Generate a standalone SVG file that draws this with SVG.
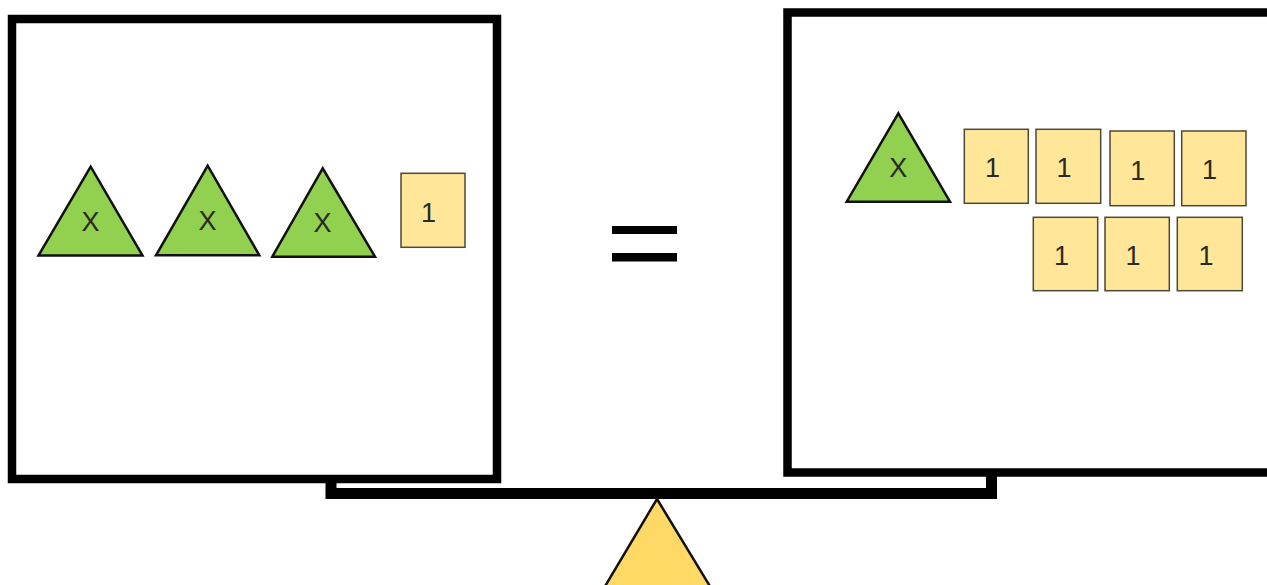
<svg xmlns="http://www.w3.org/2000/svg" width="1267" height="585" viewBox="0 0 1267 585">
<style>
.pan{fill:#fff;stroke:#000;stroke-width:8.5}
.tri{fill:#92D050;stroke:#111;stroke-width:2.5;stroke-linejoin:miter}
.unit{fill:#FFE699;stroke:#4a4a3a;stroke-width:1.5}
.lbl{font-family:"Liberation Sans",Arial,sans-serif;font-size:27px;fill:#2a2a22;text-anchor:middle;dominant-baseline:central}
.ink{fill:#000}
</style>
<rect width="1267" height="585" fill="#fff"/>
<g id="beam">
<path d="M331,481 V493.5 H991.5 V475" fill="none" stroke="#000" stroke-width="11" stroke-linejoin="miter"/>
</g>
<g id="fulcrum">
<polygon points="657,499 604,588 711,588" fill="#FFD966" stroke="#111" stroke-width="2.5"/>
</g>
<g id="left-pan">
<rect class="pan" x="12" y="19" width="485" height="460"/>
</g>
<g id="right-pan">
<rect class="pan" x="787.5" y="12.5" width="500" height="460"/>
</g>
<g id="equals">
<rect class="ink" x="612" y="226" width="65" height="8"/>
<rect class="ink" x="612" y="253" width="65" height="8.5"/>
</g>
<g id="left-x1">
<polygon class="tri" points="90.7,166.7 38.5,255.5 142.5,255.5"/>
<text class="lbl" x="90.5" y="222">X</text>
</g>
<g id="left-x2">
<polygon class="tri" points="207.7,165.7 156,255.3 259.3,255.3"/>
<text class="lbl" x="207.5" y="221">X</text>
</g>
<g id="left-x3">
<polygon class="tri" points="322.7,168.3 272.3,256.7 375,256.7"/>
<text class="lbl" x="322.5" y="223">X</text>
</g>
<g id="left-one">
<rect class="unit" x="401" y="173.3" width="64" height="74"/>
<text class="lbl" x="428.5" y="213">1</text>
</g>
<g id="right-x">
<polygon class="tri" points="898.3,113.3 846.7,201.7 950,201.7"/>
<text class="lbl" x="898.3" y="168">X</text>
</g>
<g id="right-one-1">
<rect class="unit" x="964.3" y="129.3" width="64" height="74"/>
<text class="lbl" x="992.5" y="168">1</text>
</g>
<g id="right-one-2">
<rect class="unit" x="1036" y="129.3" width="64.7" height="74"/>
<text class="lbl" x="1064" y="168">1</text>
</g>
<g id="right-one-3">
<rect class="unit" x="1110" y="131" width="64.3" height="74.7"/>
<text class="lbl" x="1137.7" y="170.5">1</text>
</g>
<g id="right-one-4">
<rect class="unit" x="1181.7" y="131" width="64.3" height="74.7"/>
<text class="lbl" x="1209.5" y="170">1</text>
</g>
<g id="right-one-5">
<rect class="unit" x="1033.3" y="217.3" width="64.4" height="73.4"/>
<text class="lbl" x="1061.5" y="256">1</text>
</g>
<g id="right-one-6">
<rect class="unit" x="1105" y="217.3" width="64.3" height="73.4"/>
<text class="lbl" x="1133" y="256">1</text>
</g>
<g id="right-one-7">
<rect class="unit" x="1177.3" y="217.3" width="65" height="73.4"/>
<text class="lbl" x="1206" y="256">1</text>
</g>
</svg>
